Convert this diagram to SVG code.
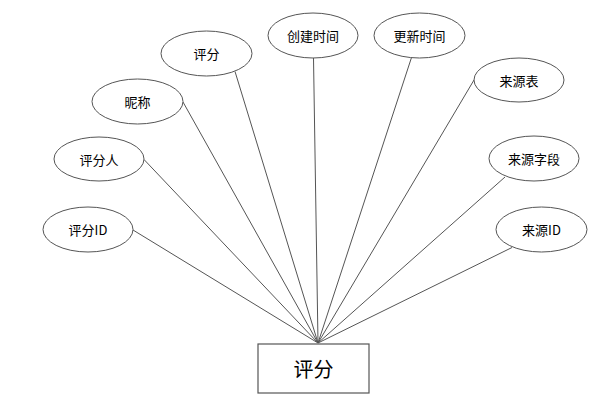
<svg xmlns="http://www.w3.org/2000/svg" width="613" height="403" viewBox="0 0 613 403">
<style>
.n ellipse{fill:#fff;stroke:#555;stroke-width:1}
.n rect{fill:#fff;stroke:#555;stroke-width:1.2}
text{font-family:"Noto Sans CJK SC","Liberation Serif",sans-serif;font-size:13px;fill:#000;text-anchor:middle;dominant-baseline:central}
.big{font-size:20px}
#edges line{stroke:#555;stroke-width:1}
</style>
<rect width="613" height="403" fill="#fff"/>
<g id="edges">
<line x1="133" y1="230" x2="318" y2="343"/>
<line x1="144" y1="159.5" x2="318" y2="343"/>
<line x1="183" y1="102" x2="318" y2="343"/>
<line x1="235" y1="71.5" x2="318" y2="343"/>
<line x1="313.5" y1="58" x2="318" y2="343"/>
<line x1="411.5" y1="57.5" x2="318" y2="343"/>
<line x1="474" y1="80" x2="318" y2="343"/>
<line x1="505" y1="177" x2="318" y2="343"/>
<line x1="512" y1="247.5" x2="318" y2="343"/>
</g>
<g id="entity" class="n"><rect x="258" y="344" width="111" height="49"/><text class="big" x="313.5" y="368.5">评分</text></g>
<g id="a_id" class="n"><ellipse cx="88" cy="229.5" rx="45" ry="22.5"/><text x="88" y="229.5">评分ID</text></g>
<g id="a_rater" class="n"><ellipse cx="99" cy="159" rx="45" ry="22"/><text x="99" y="159">评分人</text></g>
<g id="a_nick" class="n"><ellipse cx="137.5" cy="101.5" rx="45.5" ry="22.5"/><text x="137.5" y="101.5">昵称</text></g>
<g id="a_score" class="n"><ellipse cx="206.5" cy="53.5" rx="45.5" ry="22.5"/><text x="206.5" y="53.5">评分</text></g>
<g id="a_created" class="n"><ellipse cx="313" cy="35.5" rx="45" ry="22.5"/><text x="313" y="35.5">创建时间</text></g>
<g id="a_updated" class="n"><ellipse cx="419.5" cy="35.5" rx="45.5" ry="22.5"/><text x="419.5" y="35.5">更新时间</text></g>
<g id="a_srctable" class="n"><ellipse cx="519" cy="80" rx="45" ry="22"/><text x="519" y="80">来源表</text></g>
<g id="a_srcfield" class="n"><ellipse cx="534" cy="158.5" rx="45" ry="22.5"/><text x="534" y="158.5">来源字段</text></g>
<g id="a_srcid" class="n"><ellipse cx="541.5" cy="229.5" rx="45.5" ry="22.5"/><text x="541.5" y="229.5">来源ID</text></g>
</svg>
